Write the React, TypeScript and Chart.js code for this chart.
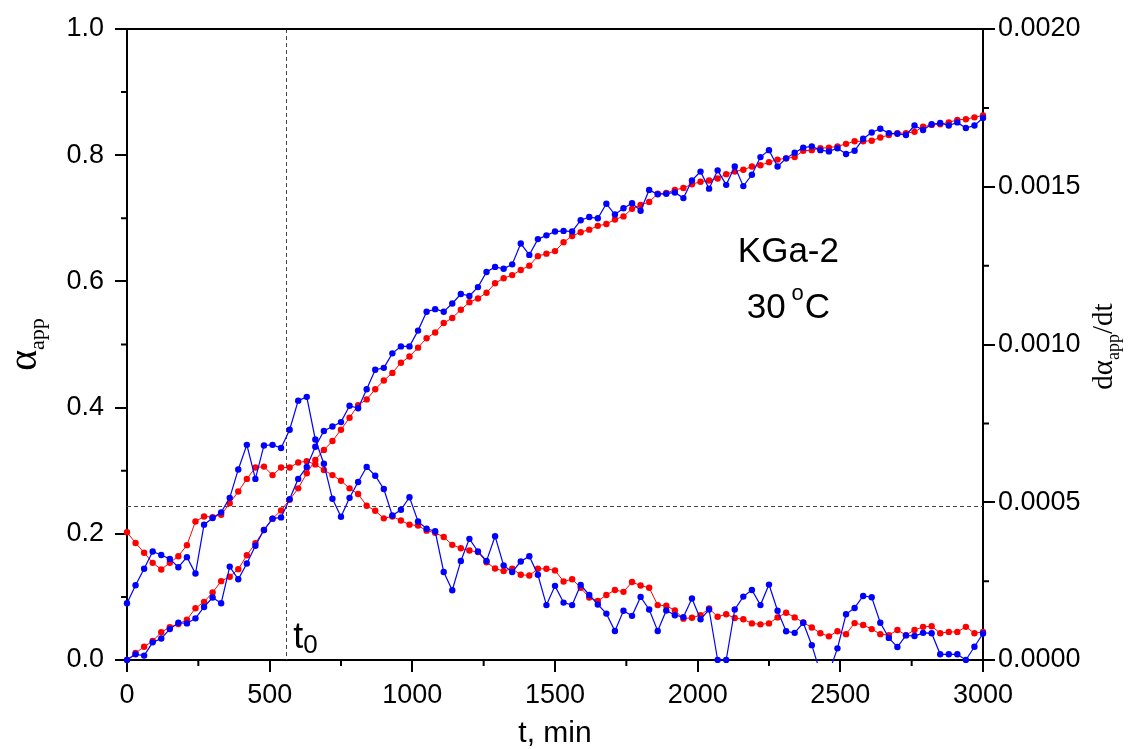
import { useEffect, useRef } from "react";
import { Chart, registerables } from "chart.js";

Chart.register(...registerables);

// time, min
const times = [
  0, 30, 60, 90, 120, 150, 180, 210, 240, 270,
  300, 330, 360, 390, 420, 450, 480, 510, 540, 570,
  600, 630, 660, 690, 720, 750, 780, 810, 840, 870,
  900, 930, 960, 990, 1020, 1050, 1080, 1110, 1140, 1170,
  1200, 1230, 1260, 1290, 1320, 1350, 1380, 1410, 1440, 1470,
  1500, 1530, 1560, 1590, 1620, 1650, 1680, 1710, 1740, 1770,
  1800, 1830, 1860, 1890, 1920, 1950, 1980, 2010, 2040, 2070,
  2100, 2130, 2160, 2190, 2220, 2250, 2280, 2310, 2340, 2370,
  2400, 2430, 2460, 2490, 2520, 2550, 2580, 2610, 2640, 2670,
  2700, 2730, 2760, 2790, 2820, 2850, 2880, 2910, 2940, 2970,
  3000,
];

// alpha_app, measured (blue)
const alphaBlue = [
  0.000, 0.009, 0.007, 0.028, 0.034, 0.049, 0.059, 0.058, 0.066, 0.084,
  0.099, 0.090, 0.148, 0.128, 0.153, 0.181, 0.206, 0.224, 0.226, 0.255,
  0.287, 0.306, 0.338, 0.363, 0.370, 0.377, 0.403, 0.399, 0.429, 0.460,
  0.463, 0.486, 0.497, 0.497, 0.522, 0.552, 0.556, 0.552, 0.565, 0.580,
  0.577, 0.591, 0.615, 0.623, 0.620, 0.627, 0.660, 0.642, 0.667, 0.673,
  0.679, 0.680, 0.679, 0.697, 0.702, 0.700, 0.723, 0.706, 0.716, 0.724,
  0.712, 0.745, 0.738, 0.739, 0.741, 0.732, 0.760, 0.774, 0.747, 0.776,
  0.753, 0.782, 0.751, 0.769, 0.797, 0.808, 0.782, 0.795, 0.804, 0.812,
  0.814, 0.808, 0.806, 0.811, 0.802, 0.807, 0.826, 0.836, 0.842, 0.835,
  0.834, 0.832, 0.847, 0.840, 0.849, 0.851, 0.847, 0.852, 0.843, 0.847,
  0.859,
];

// alpha_app, smoothed (red)
const alphaRed = [
  0.000, 0.011, 0.021, 0.030, 0.044, 0.052, 0.057, 0.064, 0.082, 0.092,
  0.107, 0.125, 0.132, 0.144, 0.166, 0.185, 0.206, 0.224, 0.237, 0.254,
  0.272, 0.296, 0.317, 0.333, 0.347, 0.365, 0.384, 0.404, 0.413, 0.429,
  0.443, 0.455, 0.471, 0.481, 0.495, 0.510, 0.519, 0.534, 0.542, 0.555,
  0.567, 0.573, 0.582, 0.597, 0.605, 0.610, 0.618, 0.625, 0.640, 0.644,
  0.648, 0.662, 0.672, 0.678, 0.682, 0.688, 0.691, 0.698, 0.703, 0.715,
  0.721, 0.726, 0.739, 0.740, 0.745, 0.748, 0.754, 0.758, 0.760, 0.763,
  0.770, 0.774, 0.777, 0.782, 0.784, 0.789, 0.793, 0.795, 0.797, 0.807,
  0.808, 0.811, 0.812, 0.814, 0.818, 0.822, 0.822, 0.823, 0.828, 0.832,
  0.835, 0.835, 0.837, 0.845, 0.848, 0.849, 0.852, 0.856, 0.857, 0.860,
  0.863,
];

// d(alpha_app)/dt in units of 1e-4 per min, measured (blue)
const rateBlueE4 = [
  1.80, 2.37, 2.89, 3.44, 3.33, 3.20, 2.94, 3.26, 2.74, 4.29,
  4.50, 4.68, 5.14, 6.04, 6.82, 5.74, 6.80, 6.82, 6.72, 7.30,
  8.22, 8.34, 6.99, 6.22, 5.11, 4.54, 5.14, 5.64, 6.12, 5.84,
  5.42, 4.58, 4.76, 5.16, 4.39, 4.16, 4.08, 2.79, 2.21, 3.14,
  3.84, 3.44, 3.14, 3.92, 3.00, 2.79, 3.12, 3.29, 2.70, 1.74,
  2.35, 1.82, 1.74, 2.38, 2.06, 1.76, 1.47, 0.92, 1.56, 1.40,
  2.00, 1.60, 0.92, 1.57, 1.42, 1.36, 1.95, 1.29, 1.60, 0.00,
  0.00, 1.60, 2.01, 2.22, 1.74, 2.39, 1.56, 0.91, 0.86, 1.18,
  0.47, -0.40, -0.40, 0.37, 1.45, 1.65, 2.03, 1.99, 1.18, 0.70,
  0.41, 0.78, 0.76, 0.86, 0.85, 0.18, 0.18, 0.18, 0.00, 0.42,
  0.84,
];

// d(alpha_app)/dt in units of 1e-4 per min, smoothed (red)
const rateRedE4 = [
  4.05, 3.71, 3.40, 3.08, 2.87, 3.08, 3.29, 3.64, 4.39, 4.55,
  4.53, 4.60, 4.97, 5.34, 5.74, 6.10, 6.13, 5.86, 6.10, 6.10,
  6.26, 6.30, 6.20, 6.02, 5.86, 5.68, 5.44, 5.26, 4.89, 4.73,
  4.49, 4.55, 4.42, 4.29, 4.26, 4.10, 4.03, 3.90, 3.65, 3.54,
  3.47, 3.42, 3.10, 2.90, 2.82, 2.89, 2.70, 2.68, 2.89, 2.89,
  2.84, 2.49, 2.56, 2.29, 1.98, 1.87, 2.06, 2.22, 2.16, 2.47,
  2.36, 2.29, 1.74, 1.72, 1.57, 1.31, 1.34, 1.42, 1.63, 1.37,
  1.45, 1.33, 1.29, 1.16, 1.13, 1.16, 1.35, 1.50, 1.35, 1.19,
  1.03, 0.85, 0.75, 0.91, 0.82, 1.17, 1.11, 0.98, 0.82, 0.79,
  0.95, 0.79, 0.95, 1.05, 1.07, 0.85, 0.89, 0.89, 1.05, 0.85,
  0.89,
];
const RATE_UNIT = 1e-4;

// ticks
const xMajorTicks = [0, 500, 1000, 1500, 2000, 2500, 3000];
const xMinorTicks = [250, 750, 1250, 1750, 2250, 2750];
const yMajorTicks = [0, 0.2, 0.4, 0.6, 0.8, 1.0];
const yTickLabels = ["0.0", "0.2", "0.4", "0.6", "0.8", "1.0"];
const yMinorTicks = [0.1, 0.3, 0.5, 0.7, 0.9];
const y2MajorTicks = [0, 0.0005, 0.001, 0.0015, 0.002];
const y2TickLabels = ["0.0000", "0.0005", "0.0010", "0.0015", "0.0020"];
const y2MinorTicks = [0.00025, 0.00075, 0.00125, 0.00175];

// reference markers and annotations
const T0 = 558;
const ALPHA_T0 = 0.244;
const sampleName = "KGa-2";
const tempLabel = ["30 ", "o", "C"];
const KGA_POS = { t: 2318, a: 0.631 };
const TEMP_POS = { t: 2172, a: 0.542 };
const T0_LABEL_POS = { t: 583, a: 0.019 };

const SANS = "'Liberation Sans', Arial, Helvetica, sans-serif";
const SERIF = "'Liberation Serif', 'Times New Roman', serif";

const decorPlugin = {
  id: "decor",
  beforeDatasetsDraw(chart: any) {
    const { ctx, chartArea } = chart;
    const xs = chart.scales.x;
    const ys = chart.scales.y;
    ctx.save();
    ctx.strokeStyle = "#444";
    ctx.lineWidth = 1;
    ctx.setLineDash([4, 3]);
    const px = Math.round(xs.getPixelForValue(T0)) + 0.5;
    ctx.beginPath();
    ctx.moveTo(px, chartArea.top);
    ctx.lineTo(px, chartArea.bottom);
    ctx.stroke();
    const py = Math.round(ys.getPixelForValue(ALPHA_T0)) + 0.5;
    ctx.beginPath();
    ctx.moveTo(chartArea.left, py);
    ctx.lineTo(chartArea.right, py);
    ctx.stroke();
    ctx.restore();
  },
  afterDraw(chart: any) {
    const { ctx, chartArea } = chart;
    const xs = chart.scales.x;
    const ys = chart.scales.y;
    const y2 = chart.scales.y2;
    ctx.save();
    ctx.strokeStyle = "#000";
    ctx.lineWidth = 2;
    // top frame line
    ctx.beginPath();
    ctx.moveTo(chartArea.left - 1, chartArea.top);
    ctx.lineTo(chartArea.right + 1, chartArea.top);
    ctx.stroke();
    // minor ticks
    const minorLen = 6;
    ctx.beginPath();
    xMinorTicks.forEach((v) => {
      const p = xs.getPixelForValue(v);
      ctx.moveTo(p, chartArea.bottom);
      ctx.lineTo(p, chartArea.bottom + minorLen);
    });
    yMinorTicks.forEach((v) => {
      const p = ys.getPixelForValue(v);
      ctx.moveTo(chartArea.left - minorLen, p);
      ctx.lineTo(chartArea.left, p);
    });
    y2MinorTicks.forEach((v) => {
      const p = y2.getPixelForValue(v);
      ctx.moveTo(chartArea.right, p);
      ctx.lineTo(chartArea.right + minorLen, p);
    });
    ctx.stroke();

    ctx.fillStyle = "#000";
    ctx.textBaseline = "alphabetic";

    // x axis title
    ctx.font = `30px ${SANS}`;
    ctx.textAlign = "center";
    ctx.fillText("t, min", (chartArea.left + chartArea.right) / 2, chartArea.bottom + 82);

    // left axis title: alpha_app (rotated)
    ctx.save();
    ctx.translate(chartArea.left - 100, (chartArea.top + chartArea.bottom) / 2);
    ctx.rotate(-Math.PI / 2);
    ctx.textAlign = "left";
    ctx.font = `40px ${SERIF}`;
    const wA = ctx.measureText("\u03b1").width;
    ctx.font = `22px ${SERIF}`;
    const wApp = ctx.measureText("app").width;
    let sx = -(wA + wApp) / 2;
    ctx.font = `40px ${SERIF}`;
    ctx.fillText("\u03b1", sx, 9);
    ctx.font = `22px ${SERIF}`;
    ctx.fillText("app", sx + wA, 17);
    ctx.restore();

    // right axis title: d alpha_app / dt (rotated)
    ctx.save();
    ctx.translate(chartArea.right + 120, (chartArea.top + chartArea.bottom) / 2 + 2);
    ctx.rotate(-Math.PI / 2);
    ctx.textAlign = "left";
    ctx.font = `29px ${SERIF}`;
    const wD = ctx.measureText("d\u03b1").width;
    const wDt = ctx.measureText("/dt").width;
    ctx.font = `18px ${SERIF}`;
    const wSub = ctx.measureText("app").width;
    sx = -(wD + wSub + wDt) / 2;
    ctx.font = `29px ${SERIF}`;
    ctx.fillText("d\u03b1", sx, 9);
    ctx.font = `18px ${SERIF}`;
    ctx.fillText("app", sx + wD, 16);
    ctx.font = `29px ${SERIF}`;
    ctx.fillText("/dt", sx + wD + wSub, 9);
    ctx.restore();

    // sample annotation
    ctx.font = `35px ${SANS}`;
    ctx.textAlign = "center";
    ctx.fillText(sampleName, xs.getPixelForValue(KGA_POS.t), ys.getPixelForValue(KGA_POS.a));
    ctx.textAlign = "left";
    let tx = xs.getPixelForValue(TEMP_POS.t);
    const ty = ys.getPixelForValue(TEMP_POS.a);
    ctx.font = `35px ${SANS}`;
    ctx.fillText(tempLabel[0], tx, ty);
    tx += ctx.measureText(tempLabel[0]).width - 4;
    ctx.font = `22px ${SANS}`;
    ctx.fillText(tempLabel[1], tx, ty - 18);
    tx += ctx.measureText(tempLabel[1]).width + 1;
    ctx.font = `35px ${SANS}`;
    ctx.fillText(tempLabel[2], tx, ty);

    // t0 label
    let lx = xs.getPixelForValue(T0_LABEL_POS.t);
    const ly = ys.getPixelForValue(T0_LABEL_POS.a);
    ctx.font = `36px ${SANS}`;
    ctx.fillText("t", lx, ly);
    lx += ctx.measureText("t").width;
    ctx.font = `26px ${SANS}`;
    ctx.fillText("0", lx, ly + 5);
    ctx.restore();
  },
};

export default function App() {
  const canvasRef = useRef<HTMLCanvasElement | null>(null);

  useEffect(() => {
    const canvas = canvasRef.current;
    if (!canvas) return;

    const mk = (vals: number[], scale = 1) => times.map((t, i) => ({ x: t, y: vals[i] * scale }));
    const ds = (label: string, data: any[], color: string, axis: string, width: number) => ({
      label,
      data,
      yAxisID: axis,
      borderColor: color,
      backgroundColor: color,
      pointBackgroundColor: color,
      pointBorderColor: color,
      borderWidth: width,
      pointRadius: 3.2,
      pointBorderWidth: 0,
      pointHoverRadius: 3.2,
      tension: 0,
      fill: false,
      clip: { left: 4, right: 4, top: 4, bottom: 3 },
    });

    const tickFont = { family: SANS, size: 27 };
    const grid = {
      drawOnChartArea: false,
      drawTicks: true,
      tickLength: 12,
      color: "#000",
      lineWidth: 2,
    };
    const border = { display: true, color: "#000", width: 2 };

    const chart = new Chart(canvas, {
      type: "line",
      data: {
        datasets: [
          ds("alpha blue", mk(alphaBlue), "#0000ff", "y", 1.2),
          ds("rate blue", mk(rateBlueE4, RATE_UNIT), "#0000ff", "y2", 1.2),
          ds("alpha red", mk(alphaRed), "#ff0000", "y", 1),
          ds("rate red", mk(rateRedE4, RATE_UNIT), "#ff0000", "y2", 1),
        ],
      },
      options: {
        animation: false,
        responsive: true,
        maintainAspectRatio: false,
        layout: { padding: { top: 29, left: 0, right: 0, bottom: 0 } },
        plugins: { legend: { display: false }, tooltip: { enabled: false } },
        events: [],
        scales: {
          x: {
            type: "linear",
            min: 0,
            max: 3000,
            afterBuildTicks: (s: any) => {
              s.ticks = xMajorTicks.map((v) => ({ value: v }));
            },
            afterFit: (s: any) => {
              s.height = 89;
            },
            ticks: {
              font: tickFont,
              color: "#000",
              padding: 7,
              maxRotation: 0,
              callback: (v: any) => String(v),
            },
            grid,
            border,
          },
          y: {
            type: "linear",
            position: "left",
            min: 0,
            max: 1,
            afterBuildTicks: (s: any) => {
              s.ticks = yMajorTicks.map((v) => ({ value: v }));
            },
            afterFit: (s: any) => {
              s.width = 127;
            },
            ticks: {
              font: tickFont,
              color: "#000",
              padding: 11,
              callback: (v: any) => {
                const i = yMajorTicks.findIndex((m) => Math.abs(m - Number(v)) < 1e-9);
                return i >= 0 ? yTickLabels[i] : "";
              },
            },
            grid,
            border,
          },
          y2: {
            type: "linear",
            position: "right",
            min: 0,
            max: 0.002,
            afterBuildTicks: (s: any) => {
              s.ticks = y2MajorTicks.map((v) => ({ value: v }));
            },
            afterFit: (s: any) => {
              s.width = 151;
            },
            ticks: {
              font: tickFont,
              color: "#000",
              padding: 3,
              callback: (v: any) => {
                const i = y2MajorTicks.findIndex((m) => Math.abs(m - Number(v)) < 1e-12);
                return i >= 0 ? y2TickLabels[i] : "";
              },
            },
            grid,
            border,
          },
        },
      },
      plugins: [decorPlugin],
    } as any);

    return () => chart.destroy();
  }, []);

  return (
    <div
      style={{
        position: "fixed",
        left: 0,
        top: 0,
        width: "1134px",
        height: "749px",
        background: "#fff",
      }}
    >
      <canvas ref={canvasRef} />
    </div>
  );
}
